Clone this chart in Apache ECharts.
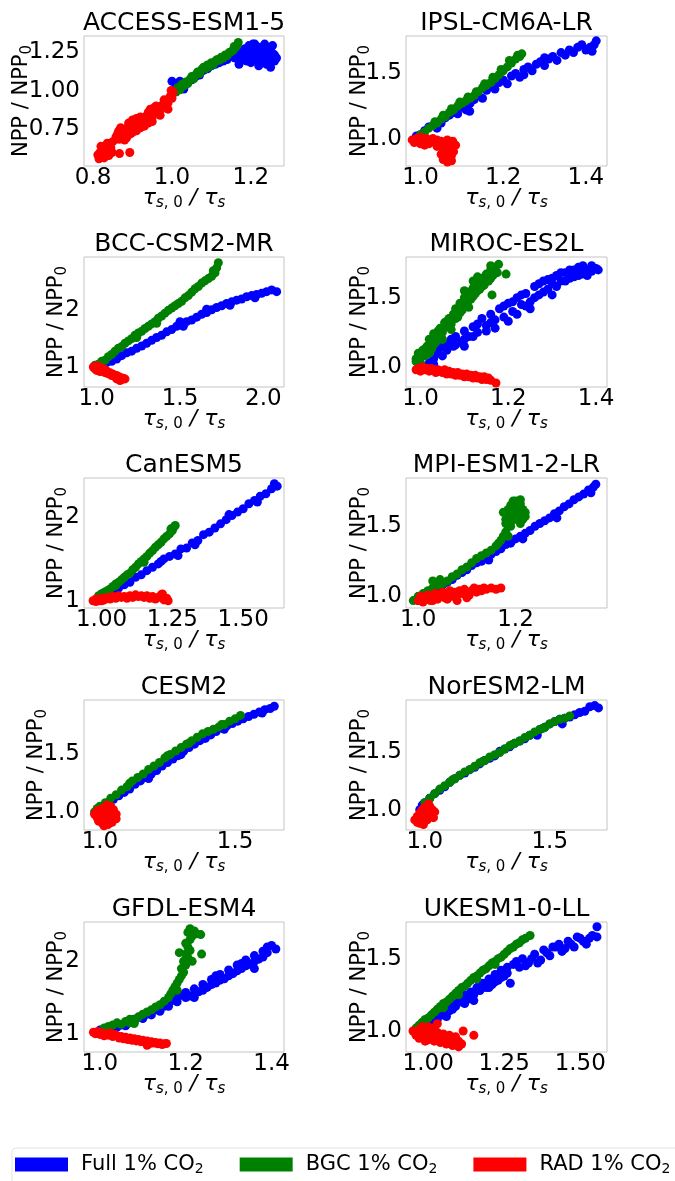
<!DOCTYPE html>
<html><head><meta charset="utf-8">
<script src="https://cdn.jsdelivr.net/npm/echarts@6/dist/echarts.min.js"></script>
<style>html,body{margin:0;padding:0;background:#fff}#c{width:675px;height:1181px}</style>
</head><body><div id="c"></div>
<script>
// ---------- titles and tick labels ----------
const modelNames = ['ACCESS-ESM1-5','IPSL-CM6A-LR','BCC-CSM2-MR','MIROC-ES2L','CanESM5','MPI-ESM1-2-LR','CESM2','NorESM2-LM','GFDL-ESM4','UKESM1-0-LL'];
const xTickValues = [[0.8,1.0,1.2],[1.0,1.2,1.4],[1.0,1.5,2.0],[1.0,1.2,1.4],[1.0,1.25,1.5],[1.0,1.2],[1.0,1.5],[1.0,1.5],[1.0,1.2,1.4],[1.0,1.25,1.5]];
const xTickDecimals = [1,1,1,1,2,1,1,1,1,2];
const yTickValues = [[0.75,1.0,1.25],[1.0,1.5],[1,2],[1.0,1.5],[1,2],[1.0,1.5],[1.0,1.5],[1.0,1.5],[1,2],[1.0,1.5]];
const yTickDecimals = [2,1,0,1,0,1,1,1,0,1];
const xRanges = [[0.777,1.284],[0.965,1.451],[0.924,2.124],[0.967,1.425],[0.938,1.644],[0.975,1.388],[0.941,1.681],[0.925,1.729],[0.963,1.429],[0.927,1.588]];
const yRanges = [[0.513,1.352],[0.790,1.787],[0.647,2.941],[0.856,1.793],[0.913,2.468],[0.917,1.845],[0.843,1.974],[0.822,1.959],[0.747,2.544],[0.855,1.753]];
const seriesNames = ['Full','BGC','RAD'];
const seriesColors = ['#0000ff','#008000','#ff0000'];

// ---------- data: [tau_s0/tau_s, NPP/NPP0] ----------
const accessFull = [[1.0,1.06],[1.01,1.04],[1.02,1.06],[1.03,1.01],[1.04,1.05],[1.05,1.07],[1.06,1.09],[1.07,1.1],[1.08,1.13],[1.09,1.14],[1.1,1.16],[1.11,1.17],[1.12,1.18],[1.13,1.19],[1.14,1.2],[1.15,1.22],[1.16,1.21],[1.165,1.23],[1.17,1.2],[1.175,1.25],[1.18,1.22],[1.185,1.27],[1.19,1.24],[1.195,1.29],[1.2,1.21],[1.205,1.26],[1.21,1.3],[1.215,1.23],[1.22,1.28],[1.225,1.19],[1.23,1.25],[1.235,1.3],[1.24,1.22],[1.245,1.27],[1.25,1.2],[1.255,1.24],[1.26,1.19],[1.265,1.21],[1.24,1.17],[1.22,1.16],[1.2,1.18],[1.18,1.2],[1.255,1.29],[1.23,1.215],[1.18,1.24],[1.19,1.19],[1.2,1.26],[1.21,1.2],[1.22,1.24],[1.23,1.28],[1.24,1.25],[1.25,1.28],[1.26,1.23],[1.215,1.27],[1.195,1.22],[1.235,1.18],[1.25,1.15],[1.205,1.3],[1.17,1.17]];
const accessBgc = [[1.01,0.99],[1.015,1.02],[1.02,1.005],[1.025,1.04],[1.03,1.03],[1.035,1.055],[1.04,1.045],[1.045,1.07],[1.05,1.09],[1.055,1.075],[1.06,1.1],[1.065,1.12],[1.07,1.11],[1.075,1.135],[1.08,1.15],[1.085,1.14],[1.09,1.165],[1.095,1.155],[1.1,1.18],[1.105,1.17],[1.11,1.19],[1.115,1.2],[1.12,1.195],[1.125,1.215],[1.13,1.21],[1.135,1.23],[1.14,1.225],[1.145,1.245],[1.15,1.25],[1.155,1.26],[1.16,1.275],[1.165,1.29],[1.168,1.31],[1.158,1.285]];
const accessRad = [[0.812,0.585],[0.818,0.6],[0.822,0.575],[0.826,0.62],[0.83,0.595],[0.834,0.64],[0.838,0.61],[0.842,0.655],[0.845,0.63],[0.836,0.66],[0.828,0.565],[0.848,0.6],[0.867,0.593],[0.893,0.6],[0.858,0.7],[0.862,0.72],[0.866,0.685],[0.87,0.735],[0.875,0.71],[0.88,0.745],[0.884,0.72],[0.888,0.76],[0.893,0.74],[0.897,0.775],[0.9,0.755],[0.905,0.79],[0.91,0.77],[0.915,0.8],[0.92,0.785],[0.925,0.82],[0.93,0.8],[0.935,0.835],[0.94,0.815],[0.945,0.85],[0.95,0.83],[0.955,0.87],[0.96,0.855],[0.965,0.885],[0.97,0.87],[0.975,0.905],[0.98,0.895],[0.985,0.93],[0.99,0.92],[0.995,0.96],[1.0,0.95],[1.003,0.99],[0.998,1.0],[0.885,0.695],[0.9,0.73],[0.92,0.76],[0.94,0.79],[0.87,0.76],[0.88,0.68],[0.89,0.79],[0.9,0.81],[0.91,0.74],[0.92,0.83],[0.93,0.77],[0.94,0.86],[0.95,0.8],[0.96,0.9],[0.97,0.84],[0.98,0.94],[0.99,0.88],[1.0,0.98],[0.955,0.89],[0.925,0.8],[0.895,0.72],[0.865,0.74],[0.91,0.82],[0.945,0.88],[0.985,0.9],[0.82,0.64],[0.84,0.58],[0.815,0.56],[0.85,0.67]];

const ipslFull = [[0.99,1.02],[1.0,1.03],[1.01,1.06],[1.02,1.09],[1.03,1.1],[1.04,1.08],[1.05,1.12],[1.06,1.16],[1.07,1.18],[1.08,1.2],[1.09,1.19],[1.1,1.24],[1.11,1.22],[1.12,1.27],[1.13,1.3],[1.14,1.33],[1.15,1.31],[1.16,1.37],[1.17,1.4],[1.18,1.38],[1.19,1.43],[1.2,1.45],[1.21,1.42],[1.22,1.48],[1.23,1.5],[1.24,1.47],[1.25,1.53],[1.26,1.55],[1.27,1.52],[1.28,1.57],[1.29,1.59],[1.3,1.56],[1.31,1.61],[1.32,1.63],[1.33,1.6],[1.34,1.66],[1.35,1.64],[1.36,1.68],[1.37,1.66],[1.38,1.7],[1.39,1.72],[1.4,1.68],[1.41,1.7],[1.42,1.72],[1.425,1.75],[1.415,1.67],[1.3,1.62],[1.25,1.49],[1.119,1.21]];
const ipslBgc = [[1.0,1.03],[1.01,1.05],[1.02,1.08],[1.03,1.1],[1.04,1.12],[1.05,1.15],[1.06,1.17],[1.07,1.2],[1.08,1.22],[1.09,1.25],[1.1,1.27],[1.11,1.29],[1.12,1.31],[1.13,1.33],[1.14,1.36],[1.15,1.39],[1.16,1.41],[1.17,1.43],[1.18,1.46],[1.19,1.49],[1.2,1.52],[1.21,1.55],[1.22,1.58],[1.23,1.61],[1.24,1.63],[1.245,1.65],[1.235,1.64],[1.215,1.6],[1.195,1.53],[1.175,1.47],[1.155,1.42],[1.135,1.36],[1.115,1.32],[1.095,1.28],[1.075,1.23],[1.055,1.18],[1.035,1.13]];
const ipslRad = [[0.98,0.99],[0.985,0.97],[0.99,1.0],[0.995,0.98],[1.0,1.01],[1.005,0.97],[1.01,0.99],[1.015,1.0],[1.02,0.96],[1.025,0.98],[1.03,1.0],[1.035,0.97],[1.04,0.99],[1.045,0.95],[1.05,0.98],[1.055,0.93],[1.06,0.96],[1.065,0.9],[1.07,0.94],[1.075,0.87],[1.06,0.85],[1.065,0.82],[1.07,0.84],[1.08,0.9],[1.085,0.95],[1.078,0.98],[1.05,0.88],[1.055,0.84],[1.04,0.94],[1.02,0.99],[1.0,0.96],[1.01,0.95],[1.065,0.99],[1.075,0.83]];

const bccFull = [[1.0,1.02],[1.03,1.04],[1.06,1.08],[1.09,1.1],[1.12,1.14],[1.15,1.2],[1.18,1.25],[1.21,1.28],[1.24,1.33],[1.27,1.37],[1.3,1.42],[1.33,1.47],[1.36,1.52],[1.39,1.56],[1.42,1.62],[1.45,1.66],[1.48,1.72],[1.51,1.76],[1.54,1.8],[1.57,1.83],[1.6,1.88],[1.63,1.93],[1.66,1.96],[1.69,2.01],[1.72,2.05],[1.75,2.08],[1.78,2.12],[1.81,2.15],[1.84,2.18],[1.87,2.2],[1.9,2.24],[1.93,2.26],[1.96,2.28],[1.99,2.3],[2.02,2.33],[2.05,2.36],[2.08,2.33],[1.5,1.8],[1.52,1.72],[1.66,2.02],[1.8,2.09],[1.95,2.22]];
const bccBgc = [[0.99,1.03],[1.01,1.05],[1.03,1.1],[1.05,1.12],[1.07,1.18],[1.09,1.22],[1.11,1.28],[1.13,1.33],[1.15,1.36],[1.17,1.42],[1.19,1.46],[1.21,1.5],[1.23,1.56],[1.25,1.6],[1.27,1.63],[1.29,1.68],[1.31,1.72],[1.33,1.76],[1.35,1.8],[1.37,1.86],[1.39,1.9],[1.41,1.95],[1.43,2.0],[1.45,2.04],[1.47,2.08],[1.49,2.12],[1.51,2.16],[1.53,2.22],[1.55,2.26],[1.57,2.32],[1.59,2.38],[1.61,2.42],[1.63,2.48],[1.65,2.52],[1.67,2.56],[1.69,2.6],[1.71,2.66],[1.72,2.75],[1.73,2.84],[1.7,2.7],[1.24,1.52],[1.36,1.77]];
const bccRad = [[0.98,1.0],[0.99,0.97],[1.0,1.02],[1.01,0.95],[1.02,0.99],[1.03,0.93],[1.04,0.97],[1.05,0.9],[1.06,0.93],[1.07,0.88],[1.08,0.9],[1.09,0.85],[1.1,0.87],[1.11,0.83],[1.12,0.85],[1.13,0.8],[1.14,0.82],[1.15,0.78],[1.16,0.8],[1.17,0.79],[1.0,0.94],[1.01,1.0],[1.03,0.98],[1.05,0.95],[1.02,0.92],[1.12,0.79],[1.14,0.76]];

const mirocFull = [[1.02,1.03],[1.03,1.06],[1.04,1.1],[1.045,1.14],[1.05,1.08],[1.06,1.17],[1.07,1.2],[1.075,1.15],[1.08,1.22],[1.09,1.18],[1.1,1.26],[1.11,1.22],[1.12,1.29],[1.13,1.25],[1.14,1.35],[1.15,1.3],[1.16,1.38],[1.17,1.34],[1.18,1.42],[1.19,1.36],[1.2,1.46],[1.21,1.4],[1.22,1.5],[1.23,1.45],[1.24,1.53],[1.25,1.47],[1.26,1.58],[1.27,1.52],[1.28,1.62],[1.29,1.56],[1.3,1.64],[1.31,1.58],[1.32,1.68],[1.33,1.62],[1.34,1.7],[1.35,1.65],[1.36,1.72],[1.37,1.67],[1.38,1.7],[1.39,1.73],[1.4,1.71],[1.405,1.7],[1.15,1.26],[1.25,1.42],[1.2,1.33],[1.3,1.52],[1.1,1.2],[1.03,1.02],[1.06,1.12],[1.08,1.16],[1.1,1.15],[1.12,1.22],[1.13,1.31],[1.16,1.32],[1.17,1.28],[1.19,1.44],[1.21,1.47],[1.22,1.38],[1.23,1.52],[1.24,1.44],[1.26,1.5],[1.27,1.6],[1.28,1.54],[1.3,1.6],[1.31,1.66],[1.32,1.62],[1.34,1.64],[1.35,1.7],[1.36,1.66],[1.37,1.73],[1.38,1.66],[1.39,1.69],[1.33,1.68],[1.29,1.63]];
const mirocBgc = [[0.99,1.06],[0.995,1.1],[1.0,1.03],[1.005,1.12],[1.01,1.08],[1.015,1.15],[1.02,1.2],[1.025,1.13],[1.03,1.24],[1.035,1.18],[1.04,1.22],[1.045,1.28],[1.05,1.25],[1.055,1.32],[1.06,1.29],[1.065,1.35],[1.07,1.31],[1.075,1.38],[1.08,1.42],[1.085,1.36],[1.09,1.46],[1.095,1.41],[1.1,1.5],[1.105,1.45],[1.11,1.54],[1.115,1.49],[1.12,1.57],[1.125,1.53],[1.13,1.6],[1.135,1.56],[1.14,1.64],[1.145,1.59],[1.15,1.67],[1.155,1.62],[1.16,1.7],[1.165,1.66],[1.17,1.72],[1.175,1.68],[1.178,1.74],[1.195,1.67],[1.163,1.52],[1.11,1.43],[0.99,1.04],[1.0,1.09],[1.01,1.13],[1.02,1.1],[1.03,1.16],[1.04,1.26],[1.05,1.2],[1.06,1.33],[1.07,1.27],[1.08,1.35],[1.09,1.39],[1.1,1.44],[1.11,1.48],[1.12,1.51],[1.13,1.55],[1.14,1.58],[1.15,1.62],[1.16,1.64],[1.17,1.68],[1.13,1.65],[1.16,1.73],[1.12,1.62],[1.1,1.55]];
const mirocRad = [[0.99,0.98],[0.995,0.99],[1.0,0.97],[1.005,1.0],[1.01,0.98],[1.015,0.99],[1.02,0.97],[1.025,0.99],[1.03,0.98],[1.035,0.96],[1.04,0.98],[1.045,0.97],[1.05,0.96],[1.055,0.98],[1.06,0.95],[1.065,0.97],[1.07,0.95],[1.075,0.96],[1.08,0.94],[1.085,0.96],[1.09,0.94],[1.095,0.95],[1.1,0.93],[1.105,0.95],[1.11,0.93],[1.115,0.94],[1.12,0.92],[1.125,0.94],[1.13,0.92],[1.135,0.93],[1.14,0.91],[1.145,0.93],[1.15,0.91],[1.155,0.92],[1.16,0.905],[1.172,0.885]];

const canFull = [[0.99,1.05],[1.0,1.08],[1.02,1.1],[1.04,1.12],[1.06,1.15],[1.08,1.19],[1.1,1.22],[1.12,1.28],[1.14,1.31],[1.16,1.36],[1.18,1.4],[1.2,1.44],[1.22,1.5],[1.24,1.53],[1.26,1.56],[1.28,1.62],[1.3,1.63],[1.32,1.69],[1.34,1.72],[1.36,1.79],[1.38,1.82],[1.4,1.87],[1.42,1.92],[1.44,1.97],[1.46,2.02],[1.48,2.06],[1.5,2.1],[1.52,2.16],[1.54,2.2],[1.56,2.25],[1.58,2.28],[1.6,2.34],[1.61,2.4],[1.62,2.37],[1.27,1.54],[1.55,2.18],[1.45,2.03],[1.33,1.67],[1.21,1.47]];
const canBgc = [[0.99,1.06],[1.0,1.08],[1.01,1.1],[1.02,1.12],[1.03,1.14],[1.04,1.17],[1.05,1.2],[1.06,1.22],[1.07,1.25],[1.08,1.28],[1.09,1.31],[1.1,1.33],[1.11,1.37],[1.12,1.4],[1.13,1.44],[1.14,1.47],[1.15,1.5],[1.16,1.53],[1.17,1.57],[1.18,1.6],[1.19,1.64],[1.2,1.67],[1.21,1.7],[1.22,1.74],[1.23,1.77],[1.24,1.8],[1.25,1.84],[1.255,1.88],[1.26,1.9],[1.245,1.86],[1.15,1.46],[1.05,1.18]];
const canRad = [[0.97,1.0],[0.98,1.02],[0.99,1.0],[1.0,1.03],[1.01,1.01],[1.02,1.04],[1.03,1.02],[1.04,1.05],[1.05,1.03],[1.06,1.06],[1.07,1.04],[1.08,1.05],[1.09,1.03],[1.1,1.06],[1.11,1.04],[1.12,1.07],[1.13,1.05],[1.14,1.06],[1.15,1.04],[1.16,1.06],[1.17,1.03],[1.18,1.05],[1.19,1.02],[1.2,1.04],[1.21,1.07],[1.22,1.01],[1.23,1.03],[1.235,1.0],[1.215,1.08],[1.0,1.0],[0.98,0.99]];

const mpiFull = [[1.0,0.97],[1.01,0.99],[1.02,1.02],[1.03,1.05],[1.04,1.07],[1.05,1.08],[1.06,1.1],[1.07,1.12],[1.08,1.15],[1.09,1.17],[1.1,1.19],[1.11,1.22],[1.12,1.24],[1.13,1.25],[1.14,1.28],[1.15,1.3],[1.16,1.32],[1.17,1.34],[1.18,1.37],[1.19,1.38],[1.2,1.41],[1.21,1.43],[1.22,1.45],[1.23,1.47],[1.24,1.5],[1.25,1.52],[1.26,1.54],[1.27,1.56],[1.28,1.59],[1.29,1.61],[1.3,1.64],[1.31,1.66],[1.32,1.69],[1.33,1.71],[1.34,1.73],[1.35,1.76],[1.36,1.78],[1.365,1.8],[1.355,1.74],[1.285,1.56],[1.215,1.41],[1.145,1.26]];
const mpiBgc = [[0.99,0.97],[1.0,1.0],[1.01,1.02],[1.02,1.04],[1.03,1.06],[1.04,1.08],[1.05,1.09],[1.06,1.11],[1.07,1.14],[1.08,1.16],[1.09,1.19],[1.1,1.21],[1.11,1.24],[1.12,1.27],[1.13,1.29],[1.14,1.31],[1.15,1.33],[1.16,1.36],[1.165,1.38],[1.17,1.4],[1.175,1.43],[1.18,1.46],[1.185,1.5],[1.19,1.53],[1.18,1.55],[1.175,1.6],[1.185,1.62],[1.19,1.65],[1.195,1.68],[1.2,1.64],[1.205,1.6],[1.21,1.66],[1.215,1.62],[1.2,1.55],[1.195,1.58],[1.22,1.6],[1.21,1.52],[1.185,1.43],[1.03,1.11],[1.045,1.12],[1.19,1.6],[1.2,1.68],[1.205,1.65],[1.21,1.58],[1.215,1.55],[1.22,1.57],[1.19,1.5],[1.18,1.52],[1.185,1.58],[1.195,1.55],[1.21,1.69],[1.2,1.62]];
const mpiRad = [[1.0,0.97],[1.005,1.0],[1.01,0.96],[1.015,0.99],[1.02,1.01],[1.025,0.97],[1.03,1.0],[1.035,1.02],[1.04,0.98],[1.045,1.01],[1.05,1.03],[1.055,0.99],[1.06,1.02],[1.065,1.04],[1.07,1.0],[1.075,1.03],[1.08,1.01],[1.085,1.04],[1.09,1.02],[1.095,1.05],[1.1,1.03],[1.105,1.01],[1.11,1.04],[1.115,1.06],[1.12,1.03],[1.125,1.05],[1.13,1.04],[1.135,1.06],[1.14,1.05],[1.15,1.06],[1.16,1.05],[1.17,1.06],[1.06,0.98],[1.08,0.97],[1.03,0.97],[1.1,0.99]];

const cesmFull = [[0.99,1.02],[1.01,1.05],[1.03,1.08],[1.05,1.11],[1.07,1.14],[1.09,1.17],[1.11,1.2],[1.13,1.24],[1.15,1.27],[1.17,1.3],[1.19,1.33],[1.21,1.36],[1.23,1.4],[1.25,1.43],[1.27,1.46],[1.29,1.49],[1.31,1.53],[1.33,1.56],[1.35,1.59],[1.37,1.62],[1.39,1.64],[1.41,1.67],[1.43,1.7],[1.45,1.73],[1.47,1.75],[1.49,1.77],[1.51,1.79],[1.53,1.81],[1.55,1.83],[1.57,1.85],[1.59,1.87],[1.61,1.89],[1.63,1.9],[1.645,1.92],[1.6,1.86],[1.46,1.72],[1.3,1.5],[1.18,1.29]];
const cesmBgc = [[0.98,1.0],[0.99,1.03],[1.0,1.05],[1.02,1.08],[1.04,1.12],[1.06,1.15],[1.08,1.19],[1.1,1.22],[1.12,1.27],[1.14,1.3],[1.16,1.33],[1.18,1.37],[1.2,1.4],[1.22,1.43],[1.24,1.47],[1.26,1.5],[1.28,1.53],[1.3,1.56],[1.32,1.59],[1.34,1.62],[1.36,1.65],[1.38,1.68],[1.4,1.7],[1.42,1.72],[1.44,1.74],[1.46,1.76],[1.48,1.79],[1.5,1.81],[1.52,1.84],[1.11,1.25],[1.25,1.49],[1.45,1.76],[1.33,1.6]];
const cesmRad = [[0.98,0.98],[0.99,0.95],[0.99,1.01],[1.0,0.93],[1.0,0.99],[1.01,0.9],[1.01,0.96],[1.01,1.03],[1.02,0.92],[1.02,0.98],[1.02,1.04],[1.03,0.89],[1.03,0.95],[1.03,1.01],[1.04,0.93],[1.04,0.99],[1.04,1.05],[1.05,0.96],[1.05,1.02],[1.06,0.98],[1.06,0.94],[1.0,0.96],[0.995,0.92],[1.025,1.06],[1.045,0.91],[1.015,0.88]];

const norFull = [[0.98,1.0],[0.99,1.04],[1.0,1.06],[1.02,1.1],[1.04,1.14],[1.06,1.17],[1.08,1.2],[1.1,1.24],[1.12,1.27],[1.14,1.3],[1.16,1.32],[1.18,1.35],[1.2,1.37],[1.22,1.4],[1.24,1.43],[1.26,1.45],[1.28,1.47],[1.3,1.51],[1.32,1.53],[1.34,1.55],[1.36,1.58],[1.38,1.6],[1.4,1.62],[1.42,1.65],[1.44,1.67],[1.46,1.7],[1.48,1.72],[1.5,1.75],[1.52,1.77],[1.54,1.79],[1.56,1.8],[1.58,1.81],[1.6,1.83],[1.62,1.85],[1.64,1.86],[1.66,1.9],[1.68,1.91],[1.695,1.89],[1.55,1.75],[1.45,1.65]];
const norBgc = [[1.0,1.06],[1.02,1.1],[1.04,1.14],[1.06,1.18],[1.08,1.21],[1.1,1.24],[1.12,1.27],[1.14,1.3],[1.16,1.33],[1.18,1.35],[1.2,1.38],[1.22,1.41],[1.24,1.43],[1.26,1.46],[1.28,1.48],[1.3,1.5],[1.32,1.53],[1.34,1.56],[1.36,1.58],[1.38,1.6],[1.4,1.63],[1.42,1.65],[1.44,1.68],[1.46,1.7],[1.48,1.72],[1.5,1.75],[1.52,1.77],[1.54,1.79],[1.56,1.8],[1.58,1.82],[1.11,1.26],[1.23,1.42],[1.35,1.57],[1.47,1.71]];
const norRad = [[0.96,0.91],[0.97,0.89],[0.97,0.94],[0.98,0.92],[0.98,0.97],[0.98,0.88],[0.99,0.95],[0.99,1.0],[0.99,0.9],[1.0,0.93],[1.0,0.98],[1.0,1.02],[1.01,0.91],[1.01,0.96],[1.01,1.0],[1.02,0.94],[1.02,0.99],[1.02,1.03],[1.03,0.96],[1.03,1.0],[1.04,0.98],[0.995,0.87],[1.035,0.93],[1.015,1.05]];

const gfdlFull = [[1.0,1.05],[1.01,1.07],[1.02,1.09],[1.03,1.1],[1.04,1.13],[1.05,1.12],[1.06,1.16],[1.07,1.18],[1.08,1.2],[1.09,1.23],[1.1,1.25],[1.11,1.27],[1.12,1.3],[1.13,1.33],[1.14,1.36],[1.15,1.38],[1.16,1.43],[1.17,1.46],[1.18,1.5],[1.19,1.53],[1.2,1.57],[1.21,1.52],[1.22,1.62],[1.23,1.58],[1.24,1.68],[1.25,1.64],[1.26,1.75],[1.27,1.7],[1.28,1.82],[1.29,1.76],[1.3,1.88],[1.31,1.83],[1.32,1.95],[1.33,1.9],[1.34,2.02],[1.35,1.96],[1.36,2.08],[1.37,2.03],[1.38,2.14],[1.39,2.2],[1.4,2.22],[1.41,2.17],[1.27,1.8],[1.33,1.97],[1.36,1.9],[1.22,1.5],[1.04,1.09],[1.06,1.11],[1.08,1.16],[1.1,1.21],[1.12,1.26],[1.14,1.31],[1.16,1.38],[1.18,1.44],[1.2,1.5],[1.22,1.55],[1.24,1.6],[1.26,1.68],[1.28,1.74],[1.3,1.8],[1.32,1.87],[1.34,1.94],[1.36,2.0],[1.38,2.06],[1.39,2.12]];
const gfdlBgc = [[1.01,1.08],[1.02,1.1],[1.03,1.12],[1.04,1.15],[1.05,1.13],[1.06,1.17],[1.07,1.15],[1.08,1.2],[1.09,1.23],[1.1,1.27],[1.11,1.3],[1.12,1.33],[1.13,1.37],[1.14,1.4],[1.15,1.45],[1.16,1.5],[1.165,1.55],[1.17,1.6],[1.175,1.65],[1.18,1.7],[1.185,1.75],[1.19,1.8],[1.195,1.85],[1.19,1.9],[1.2,1.95],[1.195,2.0],[1.205,2.05],[1.2,2.1],[1.185,2.12],[1.21,2.15],[1.205,2.2],[1.2,2.25],[1.21,2.3],[1.215,2.35],[1.205,2.4],[1.21,2.45],[1.22,2.42],[1.225,2.38],[1.235,2.37],[1.237,2.1],[1.215,2.0],[1.18,1.6],[1.07,1.2],[1.08,1.14]];
const gfdlRad = [[0.985,1.02],[0.99,1.0],[0.995,1.03],[1.0,0.99],[1.005,1.01],[1.01,0.97],[1.015,1.0],[1.02,0.98],[1.025,1.01],[1.03,0.96],[1.035,0.99],[1.04,0.97],[1.045,0.94],[1.05,0.96],[1.055,0.93],[1.06,0.95],[1.065,0.92],[1.07,0.94],[1.075,0.91],[1.08,0.93],[1.085,0.9],[1.09,0.92],[1.095,0.89],[1.1,0.91],[1.105,0.88],[1.11,0.9],[1.115,0.86],[1.12,0.89],[1.125,0.87],[1.13,0.88],[1.135,0.86],[1.14,0.87],[1.145,0.85],[1.15,0.86],[1.155,0.865],[1.11,0.84]];

const ukFull = [[0.99,1.02],[1.0,1.05],[1.01,1.07],[1.02,1.1],[1.03,1.08],[1.04,1.13],[1.05,1.11],[1.06,1.16],[1.07,1.14],[1.08,1.19],[1.09,1.17],[1.1,1.21],[1.11,1.2],[1.12,1.25],[1.13,1.22],[1.14,1.27],[1.15,1.25],[1.16,1.3],[1.17,1.28],[1.18,1.33],[1.19,1.3],[1.2,1.36],[1.21,1.32],[1.22,1.39],[1.23,1.35],[1.24,1.42],[1.25,1.38],[1.26,1.44],[1.27,1.33],[1.28,1.46],[1.3,1.44],[1.31,1.5],[1.33,1.47],[1.35,1.53],[1.37,1.49],[1.38,1.56],[1.4,1.52],[1.42,1.58],[1.44,1.55],[1.46,1.62],[1.48,1.58],[1.5,1.64],[1.52,1.6],[1.54,1.66],[1.555,1.72],[1.555,1.65],[1.49,1.65],[1.12,1.19],[1.15,1.21],[1.2,1.3],[1.22,1.34],[1.24,1.37],[1.26,1.4],[1.29,1.48],[1.32,1.45],[1.34,1.5],[1.36,1.47],[1.39,1.54],[1.41,1.58],[1.43,1.6],[1.45,1.57],[1.47,1.6],[1.51,1.62],[1.53,1.64],[1.06,1.1],[1.08,1.15]];
const ukBgc = [[0.96,1.02],[0.97,1.04],[0.98,1.06],[0.99,1.08],[1.0,1.09],[1.01,1.11],[1.02,1.13],[1.03,1.15],[1.04,1.17],[1.05,1.19],[1.06,1.2],[1.07,1.22],[1.08,1.24],[1.09,1.26],[1.1,1.28],[1.11,1.3],[1.12,1.31],[1.13,1.33],[1.14,1.35],[1.15,1.37],[1.16,1.38],[1.17,1.4],[1.18,1.42],[1.19,1.43],[1.2,1.45],[1.21,1.47],[1.22,1.48],[1.23,1.5],[1.24,1.51],[1.25,1.53],[1.26,1.55],[1.27,1.57],[1.28,1.58],[1.29,1.6],[1.3,1.61],[1.31,1.63],[1.32,1.64],[1.335,1.66],[1.1,1.25],[1.16,1.36],[1.22,1.46],[1.05,1.16]];
const ukRad = [[0.95,1.0],[0.96,0.97],[0.97,1.01],[0.97,0.95],[0.98,0.99],[0.98,1.03],[0.99,0.96],[0.99,1.0],[1.0,0.94],[1.0,0.98],[1.0,1.03],[1.01,0.96],[1.01,1.0],[1.02,0.93],[1.02,0.97],[1.02,1.02],[1.03,0.95],[1.03,0.99],[1.04,0.92],[1.04,0.96],[1.05,0.94],[1.05,0.98],[1.06,0.91],[1.06,0.95],[1.07,0.93],[1.07,0.97],[1.08,0.9],[1.08,0.94],[1.09,0.92],[1.09,0.96],[1.1,0.89],[1.1,0.93],[1.11,0.91],[1.115,1.0],[1.15,0.97],[1.03,1.05],[0.99,0.93]];

const panelData = [
  [accessFull, accessBgc, accessRad],
  [ipslFull, ipslBgc, ipslRad],
  [bccFull, bccBgc, bccRad],
  [mirocFull, mirocBgc, mirocRad],
  [canFull, canBgc, canRad],
  [mpiFull, mpiBgc, mpiRad],
  [cesmFull, cesmBgc, cesmRad],
  [norFull, norBgc, norRad],
  [gfdlFull, gfdlBgc, gfdlRad],
  [ukFull, ukBgc, ukRad]
];

// ---------- layout ----------
const FONT = 'DejaVu Sans';
const colLeft = [84, 406];
const colWidth = [200, 201];
const rowTop = [36, 257, 478, 700, 922];
const plotH = 130;
const yNameGap = [49, 33, 14, 33, 14, 33, 34, 33, 14, 33];

const grids = [], xAxes = [], yAxes = [], titles = [], series = [];
modelNames.forEach((name, i) => {
  const c = i % 2, r = Math.floor(i / 2);
  grids.push({left: colLeft[c], top: rowTop[r], width: colWidth[c], height: plotH,
    show: true, borderColor: '#c4c4c4', borderWidth: 1, backgroundColor: 'transparent'});
  titles.push({text: name, left: colLeft[c] + colWidth[c] / 2, top: rowTop[r] - 25, textAlign: 'center', padding: 0,
    textStyle: {fontFamily: FONT, fontSize: 25, fontWeight: 'normal', color: '#000'}});
  const xd = xTickDecimals[i], yd = yTickDecimals[i];
  xAxes.push({type: 'value', gridIndex: i, min: xRanges[i][0], max: xRanges[i][1],
    axisLine: {show: false}, splitLine: {show: false}, axisTick: {show: false},
    axisLabel: {customValues: xTickValues[i], formatter: v => v.toFixed(xd), fontFamily: FONT, fontSize: 23, color: '#000', margin: 1},
    name: '{t|τ}{si|s}{s|, 0}{t| / τ}{si|s}', nameLocation: 'middle', nameGap: 19, nameMoveOverlap: false,
    nameTextStyle: {fontFamily: FONT, color: '#000', rich: {
      t: {fontFamily: FONT, fontSize: 22, fontStyle: 'italic', lineHeight: 26, verticalAlign: 'middle', color: '#000'},
      si: {fontFamily: FONT, fontSize: 15, fontStyle: 'italic', lineHeight: 14, verticalAlign: 'bottom', color: '#000'},
      s: {fontFamily: FONT, fontSize: 15, lineHeight: 14, verticalAlign: 'bottom', color: '#000'}}}
  });
  yAxes.push({type: 'value', gridIndex: i, min: yRanges[i][0], max: yRanges[i][1],
    axisLine: {show: false}, splitLine: {show: false}, axisTick: {show: false},
    axisLabel: {customValues: yTickValues[i], formatter: v => v.toFixed(yd), fontFamily: FONT, fontSize: 23, color: '#000', margin: 4},
    name: '{n|NPP / NPP}{s|0}', nameLocation: 'middle', nameRotate: 90, nameGap: yNameGap[i], nameMoveOverlap: false,
    nameTextStyle: {fontFamily: FONT, color: '#000', rich: {
      n: {fontFamily: FONT, fontSize: 21, lineHeight: 26, verticalAlign: 'middle', color: '#000'},
      s: {fontFamily: FONT, fontSize: 15, lineHeight: 16, verticalAlign: 'bottom', color: '#000'}}}
  });
  panelData[i].forEach((d, k) => {
    series.push({type: 'scatter', name: seriesNames[k], xAxisIndex: i, yAxisIndex: i, data: d,
      symbol: 'circle', symbolSize: 9, itemStyle: {color: seriesColors[k], opacity: 1}, silent: true, z: 2 + k});
  });
});

const chart = echarts.init(document.getElementById('c'), null, {renderer: 'canvas'});
chart.setOption({
  animation: false,
  backgroundColor: '#fff',
  title: titles,
  grid: grids,
  xAxis: xAxes,
  yAxis: yAxes,
  legend: {
    data: seriesNames, left: 12, top: 1148, width: 720, orient: 'horizontal',
    icon: 'rect', itemWidth: 53, itemHeight: 14, itemGap: 36,
    borderColor: '#e3e3e3', borderWidth: 1, borderRadius: 4, padding: [6, 20, 16, 3],
    backgroundColor: '#fff',
    formatter: n => '{a|' + n + ' 1% CO}{b|2}',
    textStyle: {fontFamily: FONT, color: '#000', padding: [0, 0, 0, 8], rich: {
      a: {fontFamily: FONT, fontSize: 21, lineHeight: 24, verticalAlign: 'middle', color: '#000'},
      b: {fontFamily: FONT, fontSize: 14, lineHeight: 12, verticalAlign: 'bottom', color: '#000'}}}
  },
  series: series
});
</script></body></html>
